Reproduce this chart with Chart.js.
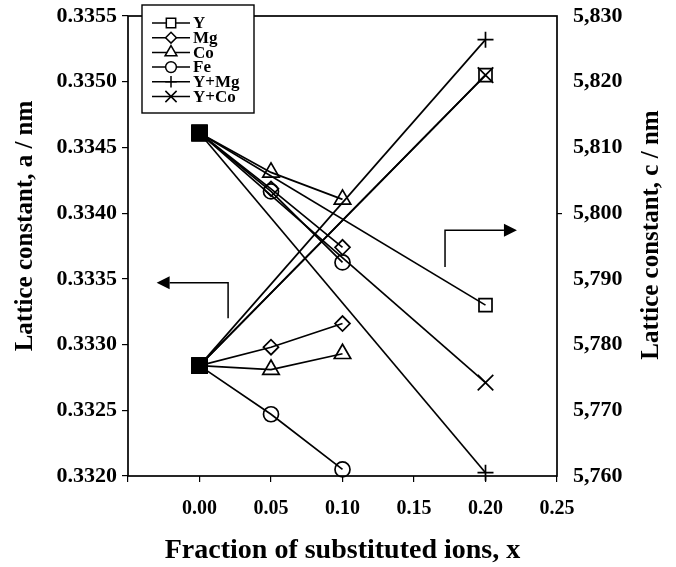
<!DOCTYPE html>
<html>
<head>
<meta charset="utf-8">
<script src="https://cdn.jsdelivr.net/npm/chart.js@4.4.1/dist/chart.umd.min.js"></script>
<style>
  html, body { margin: 0; padding: 0; background: #fff; }
  #wrap { width: 676px; height: 567px; position: relative; }
</style>
</head>
<body>
<div id="wrap"><canvas id="chart" width="676" height="567"></canvas></div>
<script>
// ---- data: lattice constants a (left axis) and c (right axis) vs substituted fraction x ----
const seriesNames = ['Y', 'Mg', 'Co', 'Fe', 'Y+Mg', 'Y+Co'];
const markerStyles = ['rect', 'rectRot', 'triangle', 'circle', 'cross', 'crossRot'];

const fractionY   = [0.00, 0.20];
const fractionMg  = [0.00, 0.05, 0.10];
const fractionCo  = [0.00, 0.05, 0.10];
const fractionFe  = [0.00, 0.05, 0.10];
const fractionYMg = [0.00, 0.20];
const fractionYCo = [0.00, 0.20];

const aY   = [0.33284, 0.33505];
const aMg  = [0.33284, 0.33298, 0.33316];
const aCo  = [0.33284, 0.33281, 0.33293];
const aFe  = [0.33284, 0.33247, 0.33205];
const aYMg = [0.33284, 0.33532];
const aYCo = [0.33284, 0.33505];

const cY   = [5812.2, 5786.0];
const cMg  = [5812.2, 5803.7, 5794.8];
const cCo  = [5812.2, 5806.2, 5802.1];
const cFe  = [5812.2, 5803.3, 5792.5];
const cYMg = [5812.2, 5760.5];
const cYCo = [5812.2, 5774.2];

const xTickValues = [-0.05, 0.00, 0.05, 0.10, 0.15, 0.20, 0.25];
const aRange = [0.3320, 0.3355];
const cRange = [5760, 5830];

// arrows pointing to the axis each group belongs to (data units)
const arrowA = { fromY: 0.33320, cornerX: 0.020, cornerY: 0.33347, tipX: -0.030 };
const arrowC = { fromY: 5791.8, cornerX: 0.1717, cornerY: 5797.4, tipX: 0.222 };

const fractions = [fractionY, fractionMg, fractionCo, fractionFe, fractionYMg, fractionYCo];
const aValues = [aY, aMg, aCo, aFe, aYMg, aYCo];
const cValues = [cY, cMg, cCo, cFe, cYMg, cYCo];

// ---- styling ----
const FONT = '"Liberation Serif", "Times New Roman", serif';
const markerRadius = { rect: 9.2, rectRot: 7.5, triangle: 9.5, circle: 7.5, cross: 8, crossRot: 11 };
const startRadius = 10.4;

function makeDataset(i, values, axis) {
  const xs = fractions[i];
  const style = markerStyles[i];
  return {
    label: seriesNames[i] + (axis === 'y' ? ' a' : ' c'),
    yAxisID: axis,
    data: xs.map((x, k) => ({ x: x, y: values[k] })),
    borderColor: '#000',
    borderWidth: 1.7,
    showLine: true,
    fill: false,
    tension: 0,
    clip: false,
    pointStyle: xs.map((x, k) => k === 0 ? 'rect' : style),
    pointRadius: xs.map((x, k) => k === 0 ? startRadius : markerRadius[style]),
    pointBackgroundColor: xs.map((x, k) => k === 0 ? '#000' : 'rgba(0,0,0,0)'),
    pointBorderColor: '#000',
    pointBorderWidth: 1.7,
    pointHoverRadius: 0
  };
}

const datasets = [];
for (let i = 0; i < seriesNames.length; i++) {
  datasets.push(makeDataset(i, aValues[i], 'y'));
  datasets.push(makeDataset(i, cValues[i], 'y2'));
}

// small marker painter for the legend box
function paintMarker(ctx, style, x, y, r) {
  ctx.beginPath();
  switch (style) {
    case 'rect': {
      const s = r * Math.SQRT1_2;
      ctx.rect(x - s, y - s, 2 * s, 2 * s);
      break;
    }
    case 'rectRot':
      ctx.moveTo(x, y - r); ctx.lineTo(x + r, y); ctx.lineTo(x, y + r); ctx.lineTo(x - r, y); ctx.closePath();
      break;
    case 'triangle': {
      let a = 0;
      ctx.moveTo(x + Math.sin(a) * r, y - Math.cos(a) * r);
      a += 2 * Math.PI / 3; ctx.lineTo(x + Math.sin(a) * r, y - Math.cos(a) * r);
      a += 2 * Math.PI / 3; ctx.lineTo(x + Math.sin(a) * r, y - Math.cos(a) * r);
      ctx.closePath();
      break;
    }
    case 'circle':
      ctx.arc(x, y, r, 0, Math.PI * 2);
      break;
    case 'cross':
      ctx.moveTo(x, y - r); ctx.lineTo(x, y + r); ctx.moveTo(x - r, y); ctx.lineTo(x + r, y);
      break;
    case 'crossRot': {
      const d = r * Math.SQRT1_2;
      ctx.moveTo(x - d, y - d); ctx.lineTo(x + d, y + d); ctx.moveTo(x - d, y + d); ctx.lineTo(x + d, y - d);
      break;
    }
  }
  if (style !== 'cross' && style !== 'crossRot') {
    ctx.fillStyle = '#fff';
    ctx.fill();
  }
  ctx.stroke();
}

const framePlugin = {
  id: 'frame',
  beforeDatasetsDraw(chart) {
    const { ctx, chartArea: ca } = chart;
    ctx.save();
    ctx.strokeStyle = '#000';
    ctx.lineWidth = 1.7;
    ctx.strokeRect(ca.left, ca.top, ca.right - ca.left, ca.bottom - ca.top);
    ctx.restore();
  }
};

function drawArrow(ctx, xs, ys, arrow) {
  const x0 = xs.getPixelForValue(arrow.cornerX);
  const yFrom = ys.getPixelForValue(arrow.fromY);
  const yc = ys.getPixelForValue(arrow.cornerY);
  const xt = xs.getPixelForValue(arrow.tipX);
  const dir = Math.sign(xt - x0);
  const headLen = 13, headHalf = 6.5;
  ctx.beginPath();
  ctx.moveTo(x0, yFrom);
  ctx.lineTo(x0, yc);
  ctx.lineTo(xt - dir * headLen, yc);
  ctx.stroke();
  ctx.beginPath();
  ctx.moveTo(xt, yc);
  ctx.lineTo(xt - dir * headLen, yc - headHalf);
  ctx.lineTo(xt - dir * headLen, yc + headHalf);
  ctx.closePath();
  ctx.fill();
}

const decorPlugin = {
  id: 'decor',
  afterDraw(chart) {
    const { ctx, chartArea: ca, scales } = chart;
    ctx.save();
    ctx.strokeStyle = '#000';
    ctx.fillStyle = '#000';
    ctx.lineWidth = 1.5;
    drawArrow(ctx, scales.x, scales.y, arrowA);
    drawArrow(ctx, scales.x, scales.y2, arrowC);

    // axis titles
    ctx.fillStyle = '#000';
    ctx.textAlign = 'center';
    ctx.textBaseline = 'alphabetic';
    ctx.font = 'bold 28px ' + FONT;
    ctx.fillText('Fraction of substituted ions, x', (ca.left + ca.right) / 2, ca.bottom + 82);

    ctx.font = 'bold 25px ' + FONT;
    ctx.textBaseline = 'middle';
    ctx.save();
    ctx.translate(26, ca.top + 210);
    ctx.rotate(-Math.PI / 2);
    ctx.fillText('Lattice constant, a / nm', 0, 0);
    ctx.restore();
    ctx.save();
    ctx.translate(ca.right + 95, ca.top + 219);
    ctx.rotate(-Math.PI / 2);
    ctx.fillText('Lattice constant, c / nm', 0, 0);
    ctx.restore();

    // legend box
    const lx = ca.left + 14, ly = ca.top - 11, lw = 112, lh = 108;
    ctx.fillStyle = '#fff';
    ctx.fillRect(lx, ly, lw, lh);
    ctx.lineWidth = 1.4;
    ctx.strokeStyle = '#000';
    ctx.strokeRect(lx, ly, lw, lh);
    ctx.font = 'bold 17px ' + FONT;
    ctx.textAlign = 'left';
    ctx.textBaseline = 'middle';
    const rowH = 14.7;
    for (let i = 0; i < seriesNames.length; i++) {
      const ry = ly + 18 + i * rowH;
      ctx.lineWidth = 1.5;
      ctx.beginPath();
      ctx.moveTo(lx + 10, ry);
      ctx.lineTo(lx + 48, ry);
      ctx.stroke();
      const st = markerStyles[i];
      paintMarker(ctx, st, lx + 29, ry, markerRadius[st] * 0.72);
      ctx.fillStyle = '#000';
      ctx.fillText(seriesNames[i], lx + 51, ry + 1);
    }
    ctx.restore();
  }
};

const xTickFont = { family: FONT, size: 20, weight: 'bold' };
const yTickFont = { family: FONT, size: 22, weight: 'bold' };

new Chart(document.getElementById('chart'), {
  type: 'scatter',
  data: { datasets },
  options: {
    responsive: false,
    animation: false,
    devicePixelRatio: 1,
    layout: { padding: { left: 0, right: 0, top: 16, bottom: 0 } },
    plugins: { legend: { display: false }, tooltip: { enabled: false } },
    events: [],
    scales: {
      x: {
        type: 'linear',
        min: -0.05, max: 0.25,
        afterBuildTicks: s => { s.ticks = xTickValues.map(v => ({ value: v })); },
        afterFit: s => { s.height = 91; s.paddingLeft = 0; s.paddingRight = 0; },
        ticks: {
          color: '#000', font: xTickFont, padding: 15, maxRotation: 0, autoSkip: false,
          callback: v => { const r = Math.round(v * 100) / 100; return r < 0 ? '' : r.toFixed(2); }
        },
        grid: { drawOnChartArea: false, drawTicks: true, tickLength: 6, color: '#000', lineWidth: 1.2 },
        border: { display: false }
      },
      y: {
        type: 'linear', position: 'left',
        min: aRange[0], max: aRange[1],
        ticks: { stepSize: 0.0005, color: '#000', font: yTickFont, padding: 5, callback: v => v.toFixed(4) },
        afterFit: s => { s.width = 128; s.paddingTop = 0; s.paddingBottom = 0; },
        grid: { drawOnChartArea: false, drawTicks: true, tickLength: 6, color: '#000', lineWidth: 1.2 },
        border: { display: false }
      },
      y2: {
        type: 'linear', position: 'right',
        min: cRange[0], max: cRange[1],
        ticks: {
          stepSize: 10, color: '#000', font: yTickFont, padding: 11,
          callback: v => { const s = String(Math.round(v)); return s.slice(0, -3) + ',' + s.slice(-3); }
        },
        afterFit: s => { s.width = 119; s.paddingTop = 0; s.paddingBottom = 0; },
        grid: {
          drawOnChartArea: false, drawTicks: true, tickLength: 5, lineWidth: 1.2,
          color: c => (c.tick && c.tick.value === 5800) ? '#000' : 'rgba(0,0,0,0)'
        },
        border: { display: false }
      }
    }
  },
  plugins: [framePlugin, decorPlugin]
});
</script>
</body>
</html>
